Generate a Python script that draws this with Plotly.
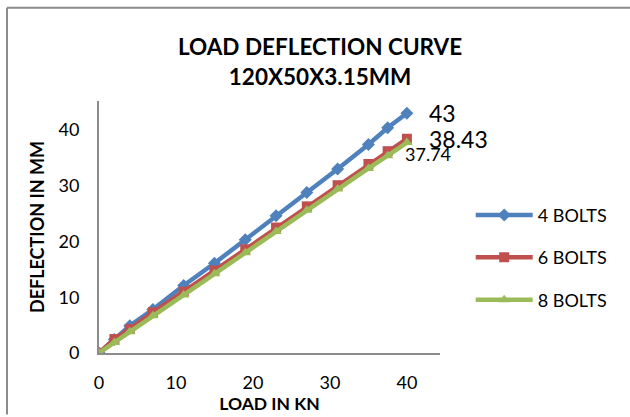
import plotly.graph_objects as go

# Load (kN) at each reading
load_kn = [0, 2, 4, 7, 11, 15, 19, 23, 27, 31, 35, 37.5, 40]

# Deflection (mm) for each bolt arrangement
defl_4_bolts = [0, 2.4, 4.9, 7.8, 12.1, 16.1, 20.3, 24.6, 28.8, 33.0, 37.4, 40.4, 43]
defl_6_bolts = [0, 2.5, 4.3, 7.3, 11.0, 14.8, 18.6, 22.5, 26.3, 30.1, 33.9, 36.2, 38.43]
defl_8_bolts = [0, 1.9, 3.8, 6.7, 10.4, 14.2, 18.0, 21.8, 25.6, 29.4, 33.1, 35.4, 37.74]

series_names = ["4 BOLTS", "6 BOLTS", "8 BOLTS"]
series_colors = ["#4F81BD", "#C0504D", "#9BBB59"]
series_symbols = ["diamond", "square", "triangle-up"]

FONT = "Lato"

fig = go.Figure()
for name, ys, color, sym in zip(series_names,
                                [defl_4_bolts, defl_6_bolts, defl_8_bolts],
                                series_colors, series_symbols):
    fig.add_trace(go.Scatter(
        x=load_kn, y=ys, name=name, mode="lines+markers",
        legendgroup=name,
        line=dict(color=color, width=4.5),
        marker=dict(symbol=sym, size=10, color=color),
    ))

# End-point value labels
end_labels = [
    (load_kn[-1], defl_4_bolts[-1], "43", 23, 20, 0),
    (load_kn[-1], defl_6_bolts[-1], "38.43", 23, 20, 0),
    (load_kn[-1], defl_8_bolts[-1], "37.74", 18, -4, -11),
]
for x, y, txt, size, dx, dy in end_labels:
    fig.add_annotation(x=x, y=y, text=txt, showarrow=False,
                       xanchor="left", yanchor="middle",
                       xshift=dx, yshift=dy,
                       font=dict(family=FONT, size=size, color="#000000"))

# Chart frame (top and left edges)
fig.add_shape(type="line", xref="paper", yref="paper",
              x0=-92 / 341, x1=531 / 341, y0=348 / 254, y1=348 / 254,
              line=dict(color="#8C8C8C", width=2))
fig.add_shape(type="line", xref="paper", yref="paper",
              x0=-92 / 341, x1=-92 / 341, y0=348 / 254, y1=-62 / 254,
              line=dict(color="#8C8C8C", width=2))

fig.update_layout(
    width=630, height=417,
    margin=dict(l=99, r=190, t=101, b=62),
    paper_bgcolor="white", plot_bgcolor="white",
    font=dict(family=FONT, size=18, color="#000000"),
    title=dict(
        text="<b>LOAD DEFLECTION CURVE<br>120X50X3.15MM</b>",
        x=0.508, xref="container", xanchor="center",
        y=0.867, yanchor="middle",
        font=dict(family=FONT, size=22.5, color="#000000"),
    ),
    xaxis=dict(
        range=[0, 44.3], tickvals=[0, 10, 20, 30, 40],
        showgrid=False, zeroline=False,
        showline=True, linecolor="#8C8C8C", linewidth=2,
        ticks="", ticklabelstandoff=12,
        tickfont=dict(family=FONT, size=18),
        title=dict(text="<b>LOAD IN KN</b>", standoff=0,
                   font=dict(family=FONT, size=17.5)),
    ),
    yaxis=dict(
        range=[0, 45.2], tickvals=[0, 10, 20, 30, 40],
        showgrid=False, zeroline=False,
        showline=True, linecolor="#8C8C8C", linewidth=2,
        ticks="", ticklabelstandoff=14,
        tickfont=dict(family=FONT, size=18),
        title=dict(text="<b>DEFLECTION IN MM</b>", standoff=9,
                   font=dict(family=FONT, size=18)),
    ),
    legend=dict(
        x=1.09, y=0.62, xanchor="left", yanchor="top",
        traceorder="grouped", tracegroupgap=16,
        itemwidth=57,
        font=dict(family=FONT, size=18),
        bgcolor="rgba(0,0,0,0)",
    ),
    showlegend=True,
)

fig.write_html("out.html")
